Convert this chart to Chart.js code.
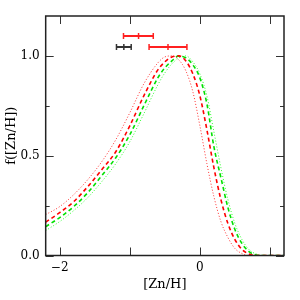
<!DOCTYPE html>
<html>
<head>
<meta charset="utf-8">
<script src="https://cdn.jsdelivr.net/npm/chart.js@4.4.1/dist/chart.umd.min.js"></script>
<style>
  html, body { margin: 0; padding: 0; background: #fff; }
  #wrap { width: 300px; height: 300px; }
</style>
</head>
<body>
<div id="wrap"><canvas id="chart" width="300" height="300"></canvas></div>
<script>
// x positions ([Zn/H]) shared by all four curves
const zn = [-2.2, -2.0, -1.8, -1.6, -1.4, -1.2, -1.0, -0.8, -0.6, -0.5, -0.4, -0.3, -0.2, -0.1, 0.0, 0.1, 0.2, 0.3, 0.4, 0.5, 0.6, 0.7, 0.8, 0.9, 1.0, 1.2];

// f([Zn/H])
const redDotted   = [0.205, 0.245, 0.305, 0.38, 0.47, 0.58, 0.715, 0.86, 0.965, 0.995, 1.0, 0.98, 0.925, 0.82, 0.65, 0.46, 0.295, 0.17, 0.09, 0.035, 0.01, 0.0, 0.0, 0.0, 0.0, 0.0];
const redDashed   = [0.167, 0.215, 0.27, 0.345, 0.43, 0.52, 0.65, 0.80, 0.93, 0.97, 0.995, 1.0, 0.975, 0.91, 0.80, 0.63, 0.44, 0.28, 0.16, 0.08, 0.03, 0.008, 0.0, 0.0, 0.0, 0.0];
const greenDashed = [0.145, 0.19, 0.245, 0.315, 0.40, 0.49, 0.605, 0.75, 0.89, 0.94, 0.975, 1.0, 0.99, 0.955, 0.89, 0.76, 0.545, 0.39, 0.24, 0.13, 0.06, 0.02, 0.003, 0.0, 0.0, 0.0];
const greenDotted = [0.125, 0.17, 0.225, 0.29, 0.37, 0.46, 0.57, 0.71, 0.855, 0.915, 0.96, 0.99, 1.0, 0.97, 0.91, 0.80, 0.62, 0.44, 0.28, 0.16, 0.08, 0.03, 0.008, 0.0, 0.0, 0.0];

// error bars: [low, mean, high] and height
const barRedTop = [-1.09, -0.875, -0.665];
const barRedTopY = 1.1;
const barBlack = [-1.19, -1.085, -0.98];
const barBlackY = 1.045;
const barRedLow = [-0.725, -0.455, -0.185];
const barRedLowY = 1.045;

const xTicks = [-2, -1, 0, 1];
const xLabels = { '-2': '\u22122', '0': '0' };
const yTicks = [0, 0.25, 0.5, 0.75, 1.0];
const yLabels = { '0': '0.0', '0.5': '0.5', '1': '1.0' };

const pts = arr => zn.map((x, i) => ({ x: x, y: arr[i] }));
const bar = (xs, y) => xs.map(x => ({ x: x, y: y }));

function curve(label, arr, color, dash, width) {
  return {
    label: label,
    data: pts(arr),
    showLine: true,
    borderColor: color,
    borderWidth: width,
    borderDash: dash,
    pointRadius: 0,
    cubicInterpolationMode: 'monotone',
    fill: false
  };
}

function errBar(label, xs, y, color) {
  return {
    label: label,
    data: bar(xs, y),
    showLine: true,
    borderColor: color,
    backgroundColor: color,
    borderWidth: 2,
    pointStyle: 'line',
    rotation: 90,
    pointRadius: 3,
    pointBorderWidth: 1.5,
    pointBorderColor: color
  };
}

// frame with inward ticks on all four sides
const frameTicks = {
  id: 'frameTicks',
  afterDraw(chart) {
    const { ctx, chartArea: a, scales } = chart;
    ctx.save();
    ctx.strokeStyle = '#333';
    ctx.lineWidth = 1;
    xTicks.forEach(v => {
      const px = Math.round(scales.x.getPixelForValue(v)) + 0.5;
      ctx.beginPath();
      ctx.moveTo(px, a.bottom); ctx.lineTo(px, a.bottom - 8);
      ctx.moveTo(px, a.top); ctx.lineTo(px, a.top + 8);
      ctx.stroke();
    });
    yTicks.forEach(v => {
      const py = Math.round(scales.y.getPixelForValue(v)) + 0.5;
      const len = (v * 2) % 1 === 0 ? 8 : 4;
      ctx.beginPath();
      ctx.moveTo(a.left, py); ctx.lineTo(a.left + len, py);
      ctx.moveTo(a.right, py); ctx.lineTo(a.right - len, py);
      ctx.stroke();
    });
    ctx.lineWidth = 1.5;
    ctx.strokeStyle = '#222';
    ctx.strokeRect(a.left, a.top, a.right - a.left, a.bottom - a.top);
    ctx.restore();
  }
};

new Chart(document.getElementById('chart'), {
  type: 'scatter',
  data: {
    datasets: [
      curve('red dotted', redDotted, '#ff3030', [1, 2], 1),
      curve('red dashed', redDashed, '#ff0000', [4, 3], 1.6),
      curve('green dashed', greenDashed, '#00e000', [4, 3], 1.6),
      curve('green dotted', greenDotted, '#30ff30', [1, 2], 1),
      errBar('red top', barRedTop, barRedTopY, '#ff2020'),
      errBar('black', barBlack, barBlackY, '#333333'),
      errBar('red low', barRedLow, barRedLowY, '#ff2020')
    ]
  },
  options: {
    responsive: false,
    animation: false,
    layout: { padding: { left: 5, right: 16, top: 16, bottom: 8.5 } },
    plugins: { legend: { display: false }, tooltip: { enabled: false } },
    scales: {
      x: {
        type: 'linear',
        min: -2.2,
        max: 1.2,
        afterBuildTicks: s => { s.ticks = xTicks.map(v => ({ value: v })); },
        grid: { display: false, drawTicks: false },
        border: { display: false },
        ticks: {
          padding: 6,
          color: '#000',
          font: { family: 'DejaVu Serif', size: 12, lineHeight: 1 },
          callback: v => xLabels[String(v)] || ''
        },
        title: {
          display: true,
          text: '[Zn/H]',
          color: '#000',
          font: { family: 'DejaVu Serif', size: 13, lineHeight: 1 },
          padding: { top: -1, bottom: 0 }
        }
      },
      y: {
        type: 'linear',
        min: 0,
        max: 1.2,
        afterBuildTicks: s => { s.ticks = yTicks.map(v => ({ value: v })); },
        grid: { display: false, drawTicks: false },
        border: { display: false },
        ticks: {
          padding: 6,
          color: '#000',
          font: { family: 'DejaVu Serif', size: 12 },
          callback: v => yLabels[String(v)] || ''
        },
        title: {
          display: true,
          text: 'f([Zn/H])',
          color: '#000',
          font: { family: 'DejaVu Serif', size: 13, lineHeight: 1 },
          padding: { top: 0, bottom: -3.4 }
        }
      }
    }
  },
  plugins: [frameTicks]
});
</script>
</body>
</html>
